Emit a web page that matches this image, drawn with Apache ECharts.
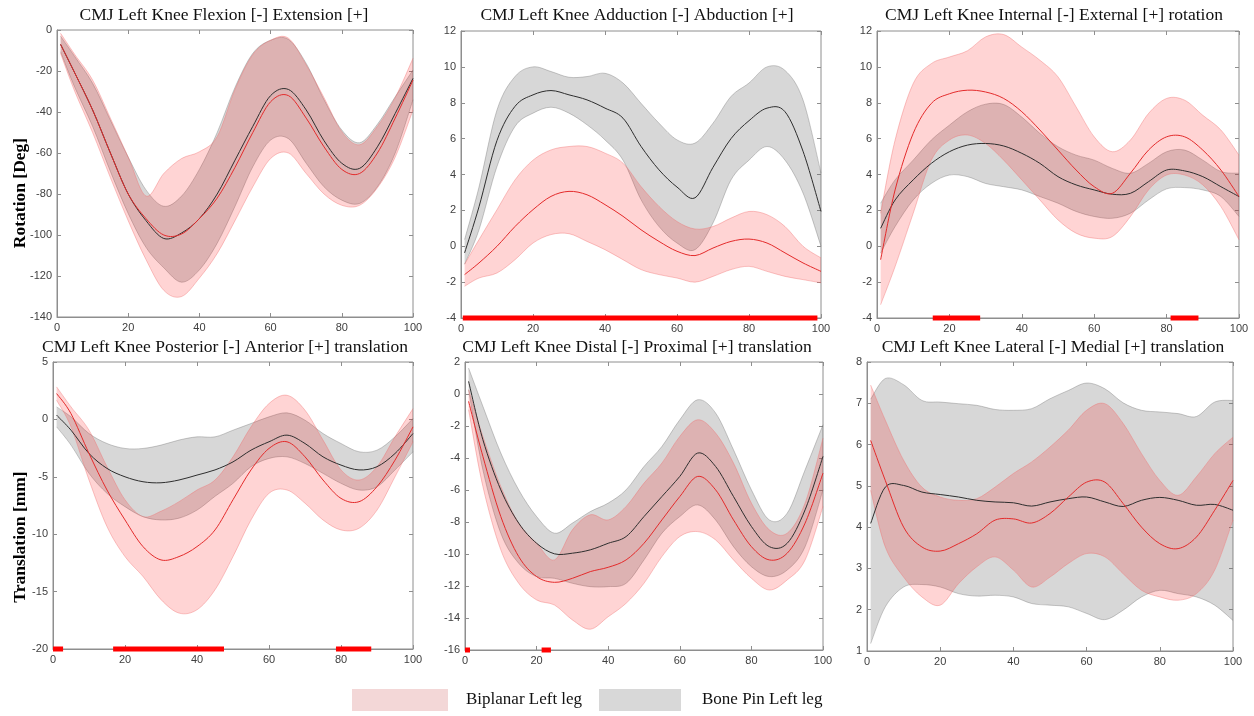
<!DOCTYPE html>
<html>
<head>
<meta charset="utf-8">
<script src="https://cdn.jsdelivr.net/npm/echarts@6/dist/echarts.min.js"></script>
<style>
  html, body { margin: 0; padding: 0; background: #ffffff; }
  #chart { width: 1254px; height: 716px; }
</style>
</head>
<body>
<div id="chart"></div>
<script>
// Percent of the countermovement jump (shared sample positions)
const X = [1, 5, 10, 15, 20, 25, 30, 35, 40, 45, 50, 55, 60, 65, 70, 75, 80, 85, 90, 95, 100];

// Flexion [-] / Extension [+] (deg)
const flexBiMean  = [-7, -21, -39, -60, -80, -92, -100, -99.5, -92, -82, -67, -50, -35, -32, -43, -57, -68, -70, -60, -43, -24.4];
const flexBiUpper = [-1.6, -12, -24.4, -43, -62, -81, -70, -62.7, -59.4, -52, -29, -12, -5, -4, -17, -33, -49.6, -56, -47, -33, -13.8];
const flexBiLower = [-11.4, -30, -50, -72, -93, -112, -127, -130, -121, -109, -93, -76.5, -62.7, -60, -70, -80, -85.5, -85.5, -77, -62, -39];
const flexPinMean  = [-7, -21, -39, -60, -80, -93, -101.7, -99, -92, -80, -63.5, -47, -32, -29, -39, -54, -65, -67.5, -57, -40.7, -23.6];
const flexPinUpper = [-3, -13, -26, -44, -62, -78, -86, -81, -68, -50, -28, -11.4, -5, -4.6, -16.3, -34, -48.8, -55, -46, -32.6, -19.5];
const flexPinLower = [-10.6, -28, -47, -69, -89.5, -106, -116, -123, -117, -104, -86, -66.7, -53.7, -53, -65, -76.5, -83, -84.6, -76.5, -60, -34];

// Adduction [-] / Abduction [+] (deg)
const abdBiMean  = [-1.58, -0.93, 0.0, 1.1, 2.04, 2.78, 3.06, 2.87, 2.32, 1.67, 0.92, 0.27, -0.28, -0.52, -0.1, 0.27, 0.4, 0.18, -0.37, -0.93, -1.4];
const abdBiUpper = [-1.0, 0.37, 2.04, 3.7, 4.8, 5.37, 5.56, 5.56, 5.19, 4.63, 3.33, 2.22, 1.38, 0.96, 1.1, 1.57, 1.94, 1.76, 1.1, 0.0, -0.65];
const abdBiLower = [-2.23, -1.77, -1.49, -0.75, 0.18, 0.65, 0.7, 0.27, -0.19, -0.75, -1.3, -1.58, -1.77, -2.0, -1.68, -1.3, -1.12, -1.4, -1.68, -1.86, -2.04];
const abdPinMean  = [-0.37, 2.2, 5.9, 7.8, 8.44, 8.68, 8.44, 8.16, 7.7, 7.14, 5.57, 4.26, 3.3, 2.7, 4.4, 6.0, 7.0, 7.7, 7.5, 5.3, 1.94];
const abdPinUpper = [0.37, 3.3, 7.6, 9.46, 10.0, 9.74, 9.42, 9.46, 9.64, 9.1, 7.97, 6.86, 5.93, 5.75, 6.86, 8.35, 9.1, 10.0, 9.8, 8.16, 4.08];
const abdPinLower = [-1.0, 0.92, 4.45, 6.68, 7.42, 7.75, 7.42, 6.77, 5.93, 4.8, 2.6, 1.1, 0.18, -0.19, 1.3, 3.7, 4.8, 5.56, 4.8, 2.97, 0.0];

// Internal [-] / External [+] rotation (deg)
const rotBiMean  = [-0.75, 3.14, 6.29, 7.96, 8.5, 8.7, 8.6, 8.24, 7.5, 6.48, 5.36, 4.25, 3.32, 2.95, 4.07, 5.36, 6.1, 6.1, 5.36, 4.25, 2.77];
const rotBiUpper = [1.84, 5.92, 9.07, 10.18, 10.55, 10.9, 11.67, 11.8, 11.1, 10.37, 9.44, 7.77, 6.1, 5.27, 5.92, 7.4, 8.24, 8.14, 7.3, 6.48, 5.08];
const rotBiLower = [-3.26, -1.13, 1.84, 4.8, 5.92, 6.2, 5.73, 4.8, 3.7, 2.58, 1.47, 0.73, 0.45, 0.54, 1.65, 3.14, 3.97, 3.97, 3.42, 2.21, 0.36];
const rotPinMean  = [1.0, 2.58, 3.7, 4.62, 5.27, 5.64, 5.73, 5.59, 5.18, 4.62, 3.88, 3.42, 3.14, 2.9, 2.95, 3.6, 4.25, 4.2, 3.88, 3.32, 2.77];
const rotPinUpper = [2.4, 3.7, 4.8, 5.92, 6.75, 7.5, 7.92, 7.9, 7.2, 6.29, 5.55, 5.08, 4.8, 4.34, 4.07, 4.62, 5.27, 5.36, 4.8, 4.16, 4.07];
const rotPinLower = [-0.38, 1.1, 2.58, 3.5, 3.97, 3.88, 3.5, 3.32, 3.14, 2.77, 2.4, 1.94, 1.66, 1.56, 1.84, 2.58, 3.2, 3.27, 3.14, 2.77, 1.66];

// Posterior [-] / Anterior [+] translation (mm)
const apBiMean  = [2.25, 0.5, -2.97, -6.15, -8.76, -11.08, -12.24, -11.95, -11.08, -9.63, -7.0, -4.4, -2.53, -1.95, -3.26, -5.28, -6.88, -7.17, -5.86, -3.55, -0.65];
const apBiUpper = [2.83, 1.09, -0.94, -4.12, -7.0, -8.47, -8.0, -7.17, -6.15, -5.28, -3.26, -0.65, 1.38, 2.1, 0.8, -1.8, -4.4, -5.28, -4.12, -1.52, 0.94];
const apBiLower = [1.67, -0.65, -5.28, -9.34, -11.95, -13.68, -15.7, -16.87, -16.58, -14.84, -11.95, -8.76, -6.44, -6.15, -7.3, -8.76, -9.63, -9.48, -7.9, -5.0, -1.95];
const apPinMean  = [0.37, -0.94, -2.97, -4.27, -5.0, -5.43, -5.52, -5.28, -4.85, -4.4, -3.7, -2.68, -1.95, -1.37, -2.1, -3.26, -3.98, -4.4, -4.12, -2.97, -1.23];
const apPinUpper = [1.09, 0.22, -1.23, -2.1, -2.53, -2.53, -2.24, -1.8, -1.52, -1.52, -0.94, -0.36, 0.22, 0.57, -0.07, -1.23, -2.1, -2.82, -2.68, -1.52, 0.08];
const apPinLower = [-0.65, -2.24, -4.7, -6.44, -7.6, -8.47, -8.76, -8.6, -7.9, -6.7, -5.57, -4.12, -3.4, -3.26, -3.84, -4.7, -5.57, -6.15, -5.86, -4.4, -2.82];

// Distal [-] / Proximal [+] translation (mm)
const dpBiMean  = [-0.46, -3.9, -7.66, -10.16, -11.41, -11.77, -11.52, -11.1, -10.83, -10.37, -9.33, -7.87, -6.41, -5.15, -5.99, -7.87, -9.54, -10.37, -9.95, -8.07, -4.95];
const dpBiUpper = [0.27, -2.65, -5.78, -8.07, -9.33, -10.37, -8.49, -7.55, -7.87, -7.03, -5.57, -4.32, -2.65, -1.61, -2.44, -4.32, -6.82, -8.49, -8.7, -6.82, -2.76];
const dpBiLower = [-0.98, -5.78, -9.74, -11.83, -12.87, -13.19, -14.12, -14.7, -13.92, -13.08, -11.83, -10.16, -8.91, -8.6, -9.12, -10.37, -11.52, -12.25, -11.62, -10.37, -7.03];
const dpPinMean  = [0.79, -2.86, -5.99, -8.07, -9.33, -9.99, -9.95, -9.74, -9.33, -8.91, -7.66, -6.41, -5.15, -3.69, -4.53, -6.41, -8.28, -9.54, -9.33, -7.24, -3.9];
const dpPinUpper = [1.62, -0.77, -3.69, -5.99, -7.66, -8.7, -8.07, -7.35, -6.82, -5.99, -4.53, -3.28, -1.61, -0.36, -1.19, -3.49, -5.99, -7.87, -7.45, -4.74, -1.92];
const dpPinLower = [0.27, -4.74, -8.7, -10.58, -11.41, -11.52, -11.83, -12.04, -12.04, -11.83, -10.37, -8.7, -7.66, -6.93, -7.87, -9.54, -10.79, -11.41, -11.0, -9.54, -5.99];

// Lateral [-] / Medial [+] translation (mm)
const mlBiMean  = [6.1, 5.13, 4.0, 3.52, 3.42, 3.6, 3.84, 4.17, 4.2, 4.1, 4.33, 4.73, 5.09, 5.09, 4.57, 4.0, 3.6, 3.48, 3.76, 4.41, 5.13];
const mlBiUpper = [7.44, 6.59, 5.62, 4.97, 4.73, 4.65, 4.69, 4.97, 5.3, 5.58, 5.94, 6.35, 6.83, 6.99, 6.51, 5.78, 5.13, 4.77, 5.22, 5.78, 6.18];
const mlBiLower = [4.89, 3.52, 2.79, 2.31, 2.11, 2.63, 3.04, 3.28, 2.96, 2.55, 2.79, 3.12, 3.36, 3.28, 2.87, 2.47, 2.31, 2.23, 2.39, 2.96, 4.17];
const mlPinMean  = [4.09, 4.97, 5.01, 4.85, 4.79, 4.73, 4.65, 4.61, 4.59, 4.51, 4.61, 4.69, 4.73, 4.61, 4.5, 4.65, 4.72, 4.65, 4.53, 4.55, 4.41];
const mlPinUpper = [7.1, 7.6, 7.45, 7.07, 7.03, 6.99, 6.95, 6.85, 6.83, 6.87, 7.11, 7.31, 7.49, 7.35, 7.01, 6.83, 6.79, 6.75, 6.68, 7.03, 7.07];
const mlPinLower = [1.18, 2.07, 2.55, 2.61, 2.55, 2.39, 2.33, 2.35, 2.31, 2.15, 2.11, 2.07, 1.91, 1.76, 1.99, 2.31, 2.47, 2.39, 2.31, 2.11, 1.74];

// Intervals of significant difference (percent of jump)
const abdSig  = [[0.5, 99]];
const rotSig  = [[15.4, 28.5], [81.1, 88.8]];
const apSig   = [[0, 2.8], [16.7, 47.5], [78.6, 88.4]];
const dpSig   = [[0, 1.4], [21.4, 24.0]];

// Axis ranges [min, max, step]
const flexRange = [-140, 0, 20];
const abdRange  = [-4, 12, 2];
const rotRange  = [-4, 12, 2];
const apRange   = [-20, 5, 5];
const dpRange   = [-16, 2, 2];
const mlRange   = [1, 8, 1];

const titles = [
  'CMJ Left Knee Flexion [-] Extension [+]',
  'CMJ Left Knee Adduction [-] Abduction [+]',
  'CMJ Left Knee Internal [-] External [+] rotation',
  'CMJ Left Knee Posterior [-] Anterior [+] translation',
  'CMJ Left Knee Distal [-] Proximal [+] translation',
  'CMJ Left Knee Lateral [-] Medial [+] translation'
];
const rowLabels = ['Rotation [Deg]', 'Translation [mm]'];
const legendNames = ['Biplanar Left leg', 'Bone Pin Left leg'];

const panels = [
  { grid: { left: 57,  top: 30,  width: 356, height: 287 }, titleX: 224,  titleY: 15,  range: flexRange,
    bi: [flexBiMean, flexBiUpper, flexBiLower], pin: [flexPinMean, flexPinUpper, flexPinLower], sig: [] },
  { grid: { left: 461, top: 31,  width: 360, height: 287 }, titleX: 637,  titleY: 15,  range: abdRange,
    bi: [abdBiMean, abdBiUpper, abdBiLower], pin: [abdPinMean, abdPinUpper, abdPinLower], sig: abdSig },
  { grid: { left: 877, top: 31,  width: 362, height: 287 }, titleX: 1054, titleY: 15,  range: rotRange,
    bi: [rotBiMean, rotBiUpper, rotBiLower], pin: [rotPinMean, rotPinUpper, rotPinLower], sig: rotSig },
  { grid: { left: 53,  top: 362, width: 360, height: 287 }, titleX: 225,  titleY: 347, range: apRange,
    bi: [apBiMean, apBiUpper, apBiLower], pin: [apPinMean, apPinUpper, apPinLower], sig: apSig },
  { grid: { left: 465, top: 362, width: 358, height: 288 }, titleX: 637,  titleY: 347, range: dpRange,
    bi: [dpBiMean, dpBiUpper, dpBiLower], pin: [dpPinMean, dpPinUpper, dpPinLower], sig: dpSig },
  { grid: { left: 867, top: 362, width: 366, height: 289 }, titleX: 1053, titleY: 347, range: mlRange,
    bi: [mlBiMean, mlBiUpper, mlBiLower], pin: [mlPinMean, mlPinUpper, mlPinLower], sig: [] }
];

const AXIS_GRAY = '#8e8e8e';
const LABEL_GRAY = '#404040';
const PINK_FILL = 'rgba(255, 0, 0, 0.17)';
const PINK_EDGE = 'rgba(240, 110, 110, 0.5)';
const GRAY_FILL = 'rgba(110, 110, 110, 0.28)';
const GRAY_EDGE = 'rgba(110, 110, 110, 0.45)';
const RED_LINE = '#e42b2b';
const DARK_LINE = '#2e2e2e';
const SERIF = '"Liberation Serif", "Times New Roman", serif';
const SANS = '"Liberation Sans", Arial, sans-serif';

// Cubic Bezier path through pixel points (Catmull-Rom tangents)
function curve(p, moveFirst) {
  let d = (moveFirst ? 'M' : 'L') + p[0][0].toFixed(2) + ' ' + p[0][1].toFixed(2);
  for (let k = 0; k < p.length - 1; k++) {
    const a = p[Math.max(k - 1, 0)], b = p[k], c = p[k + 1], e = p[Math.min(k + 2, p.length - 1)];
    const c1x = b[0] + (c[0] - a[0]) / 6, c1y = b[1] + (c[1] - a[1]) / 6;
    const c2x = c[0] - (e[0] - b[0]) / 6, c2y = c[1] - (e[1] - b[1]) / 6;
    d += ' C' + c1x.toFixed(2) + ' ' + c1y.toFixed(2) + ' ' + c2x.toFixed(2) + ' ' + c2y.toFixed(2) +
         ' ' + c[0].toFixed(2) + ' ' + c[1].toFixed(2);
  }
  return d;
}

// Shaded band between lower and upper curves, placed through the axes' scales
function band(name, xi, yi, ymin, upper, lower, fill, edge) {
  return {
    type: 'custom', name, xAxisIndex: xi, yAxisIndex: yi, silent: true, animation: false, z: 2,
    data: [[50, ymin]],
    renderItem(params, api) {
      const up = X.map((x, k) => api.coord([x, upper[k]]));
      const lo = X.map((x, k) => api.coord([x, lower[k]]));
      const loRev = lo.slice().reverse();
      return {
        type: 'group',
        children: [
          { type: 'path', shape: { pathData: curve(up, true) + ' ' + curve(loRev, false) + ' Z' },
            style: { fill: fill, stroke: null } },
          { type: 'path', shape: { pathData: curve(up, true) }, style: { fill: null, stroke: edge, lineWidth: 0.8 } },
          { type: 'path', shape: { pathData: curve(lo, true) }, style: { fill: null, stroke: edge, lineWidth: 0.8 } }
        ]
      };
    }
  };
}

// Mean curve through the axes' scales
function meanCurve(name, xi, yi, ymin, values, color) {
  return {
    type: 'custom', name, xAxisIndex: xi, yAxisIndex: yi, silent: true, animation: false, z: 3,
    data: [[50, ymin]],
    renderItem(params, api) {
      const p = X.map((x, k) => api.coord([x, values[k]]));
      return { type: 'path', shape: { pathData: curve(p, true) },
               style: { fill: null, stroke: color, lineWidth: 1 } };
    }
  };
}

const grid = [], xAxis = [], yAxis = [], series = [], graphic = [];

panels.forEach((p, i) => {
  grid.push(Object.assign({ show: true, borderColor: AXIS_GRAY, borderWidth: 1, backgroundColor: '#fff' }, p.grid));
  const [ymin, ymax, ystep] = p.range;
  const tick = { inside: true, length: 4, lineStyle: { color: AXIS_GRAY } };

  xAxis.push({
    type: 'value', gridIndex: i, min: 0, max: 100, interval: 20, position: 'bottom',
    axisLine: { show: true, onZero: false, lineStyle: { color: AXIS_GRAY } },
    axisTick: tick, splitLine: { show: false },
    axisLabel: { color: LABEL_GRAY, fontSize: 11, fontFamily: SANS, margin: 5 }
  });
  xAxis.push({
    type: 'value', gridIndex: i, min: 0, max: 100, interval: 20, position: 'top',
    axisLine: { show: false, onZero: false }, axisTick: tick, axisLabel: { show: false }, splitLine: { show: false }
  });
  yAxis.push({
    type: 'value', gridIndex: i, min: ymin, max: ymax, interval: ystep, position: 'left',
    axisLine: { show: true, onZero: false, lineStyle: { color: AXIS_GRAY } },
    axisTick: tick, splitLine: { show: false },
    axisLabel: { color: LABEL_GRAY, fontSize: 11, fontFamily: SANS, margin: 5 }
  });
  yAxis.push({
    type: 'value', gridIndex: i, min: ymin, max: ymax, interval: ystep, position: 'right',
    axisLine: { show: false, onZero: false }, axisTick: tick, axisLabel: { show: false }, splitLine: { show: false }
  });

  const xi = 2 * i, yi = 2 * i;
  // Bone pin band first, biplanar band over it
  series.push(band(legendNames[1] + ' band ' + i, xi, yi, ymin, p.pin[1], p.pin[2], GRAY_FILL, GRAY_EDGE));
  series.push(band(legendNames[0] + ' band ' + i, xi, yi, ymin, p.bi[1], p.bi[2], PINK_FILL, PINK_EDGE));
  // Mean curves
  series.push(meanCurve(legendNames[1] + ' mean ' + i, xi, yi, ymin, p.pin[0], DARK_LINE));
  series.push(meanCurve(legendNames[0] + ' mean ' + i, xi, yi, ymin, p.bi[0], RED_LINE));

  // Significance bars along the bottom of the axes
  p.sig.forEach((seg, s) => {
    series.push({
      type: 'line', name: 'sig ' + i + '-' + s, xAxisIndex: xi, yAxisIndex: yi,
      data: [[seg[0], ymin], [seg[1], ymin]], symbol: 'none', clip: false, silent: true, animation: false,
      lineStyle: { color: '#ff0000', width: 5, cap: 'butt' }, z: 5
    });
  });

  graphic.push({
    type: 'text', x: p.titleX, y: p.titleY, silent: true,
    style: { text: titles[i], fill: '#111', font: '17.5px ' + SERIF, align: 'center', verticalAlign: 'middle' }
  });
});

// Row labels on the left
graphic.push(
  { type: 'text', x: 20, y: 193, rotation: Math.PI / 2, silent: true,
    style: { text: rowLabels[0], fill: '#000', font: 'bold 17.5px ' + SERIF, align: 'center', verticalAlign: 'middle' } },
  { type: 'text', x: 20, y: 537, rotation: Math.PI / 2, silent: true,
    style: { text: rowLabels[1], fill: '#000', font: 'bold 17.5px ' + SERIF, align: 'center', verticalAlign: 'middle' } }
);

// Legend boxes with labels
graphic.push(
  { type: 'rect', shape: { x: 352, y: 689, width: 96, height: 22 }, style: { fill: '#f3d7d7' }, silent: true },
  { type: 'text', x: 466, y: 700, silent: true,
    style: { text: legendNames[0], fill: '#111', font: '17px ' + SERIF, align: 'left', verticalAlign: 'middle' } },
  { type: 'rect', shape: { x: 599, y: 689, width: 82, height: 22 }, style: { fill: '#d8d8d8' }, silent: true },
  { type: 'text', x: 702, y: 700, silent: true,
    style: { text: legendNames[1], fill: '#111', font: '17px ' + SERIF, align: 'left', verticalAlign: 'middle' } }
);

const chart = echarts.init(document.getElementById('chart'), null, { renderer: 'canvas' });
chart.setOption({
  backgroundColor: '#ffffff',
  animation: false,
  grid, xAxis, yAxis, series, graphic
});
</script>
</body>
</html>
